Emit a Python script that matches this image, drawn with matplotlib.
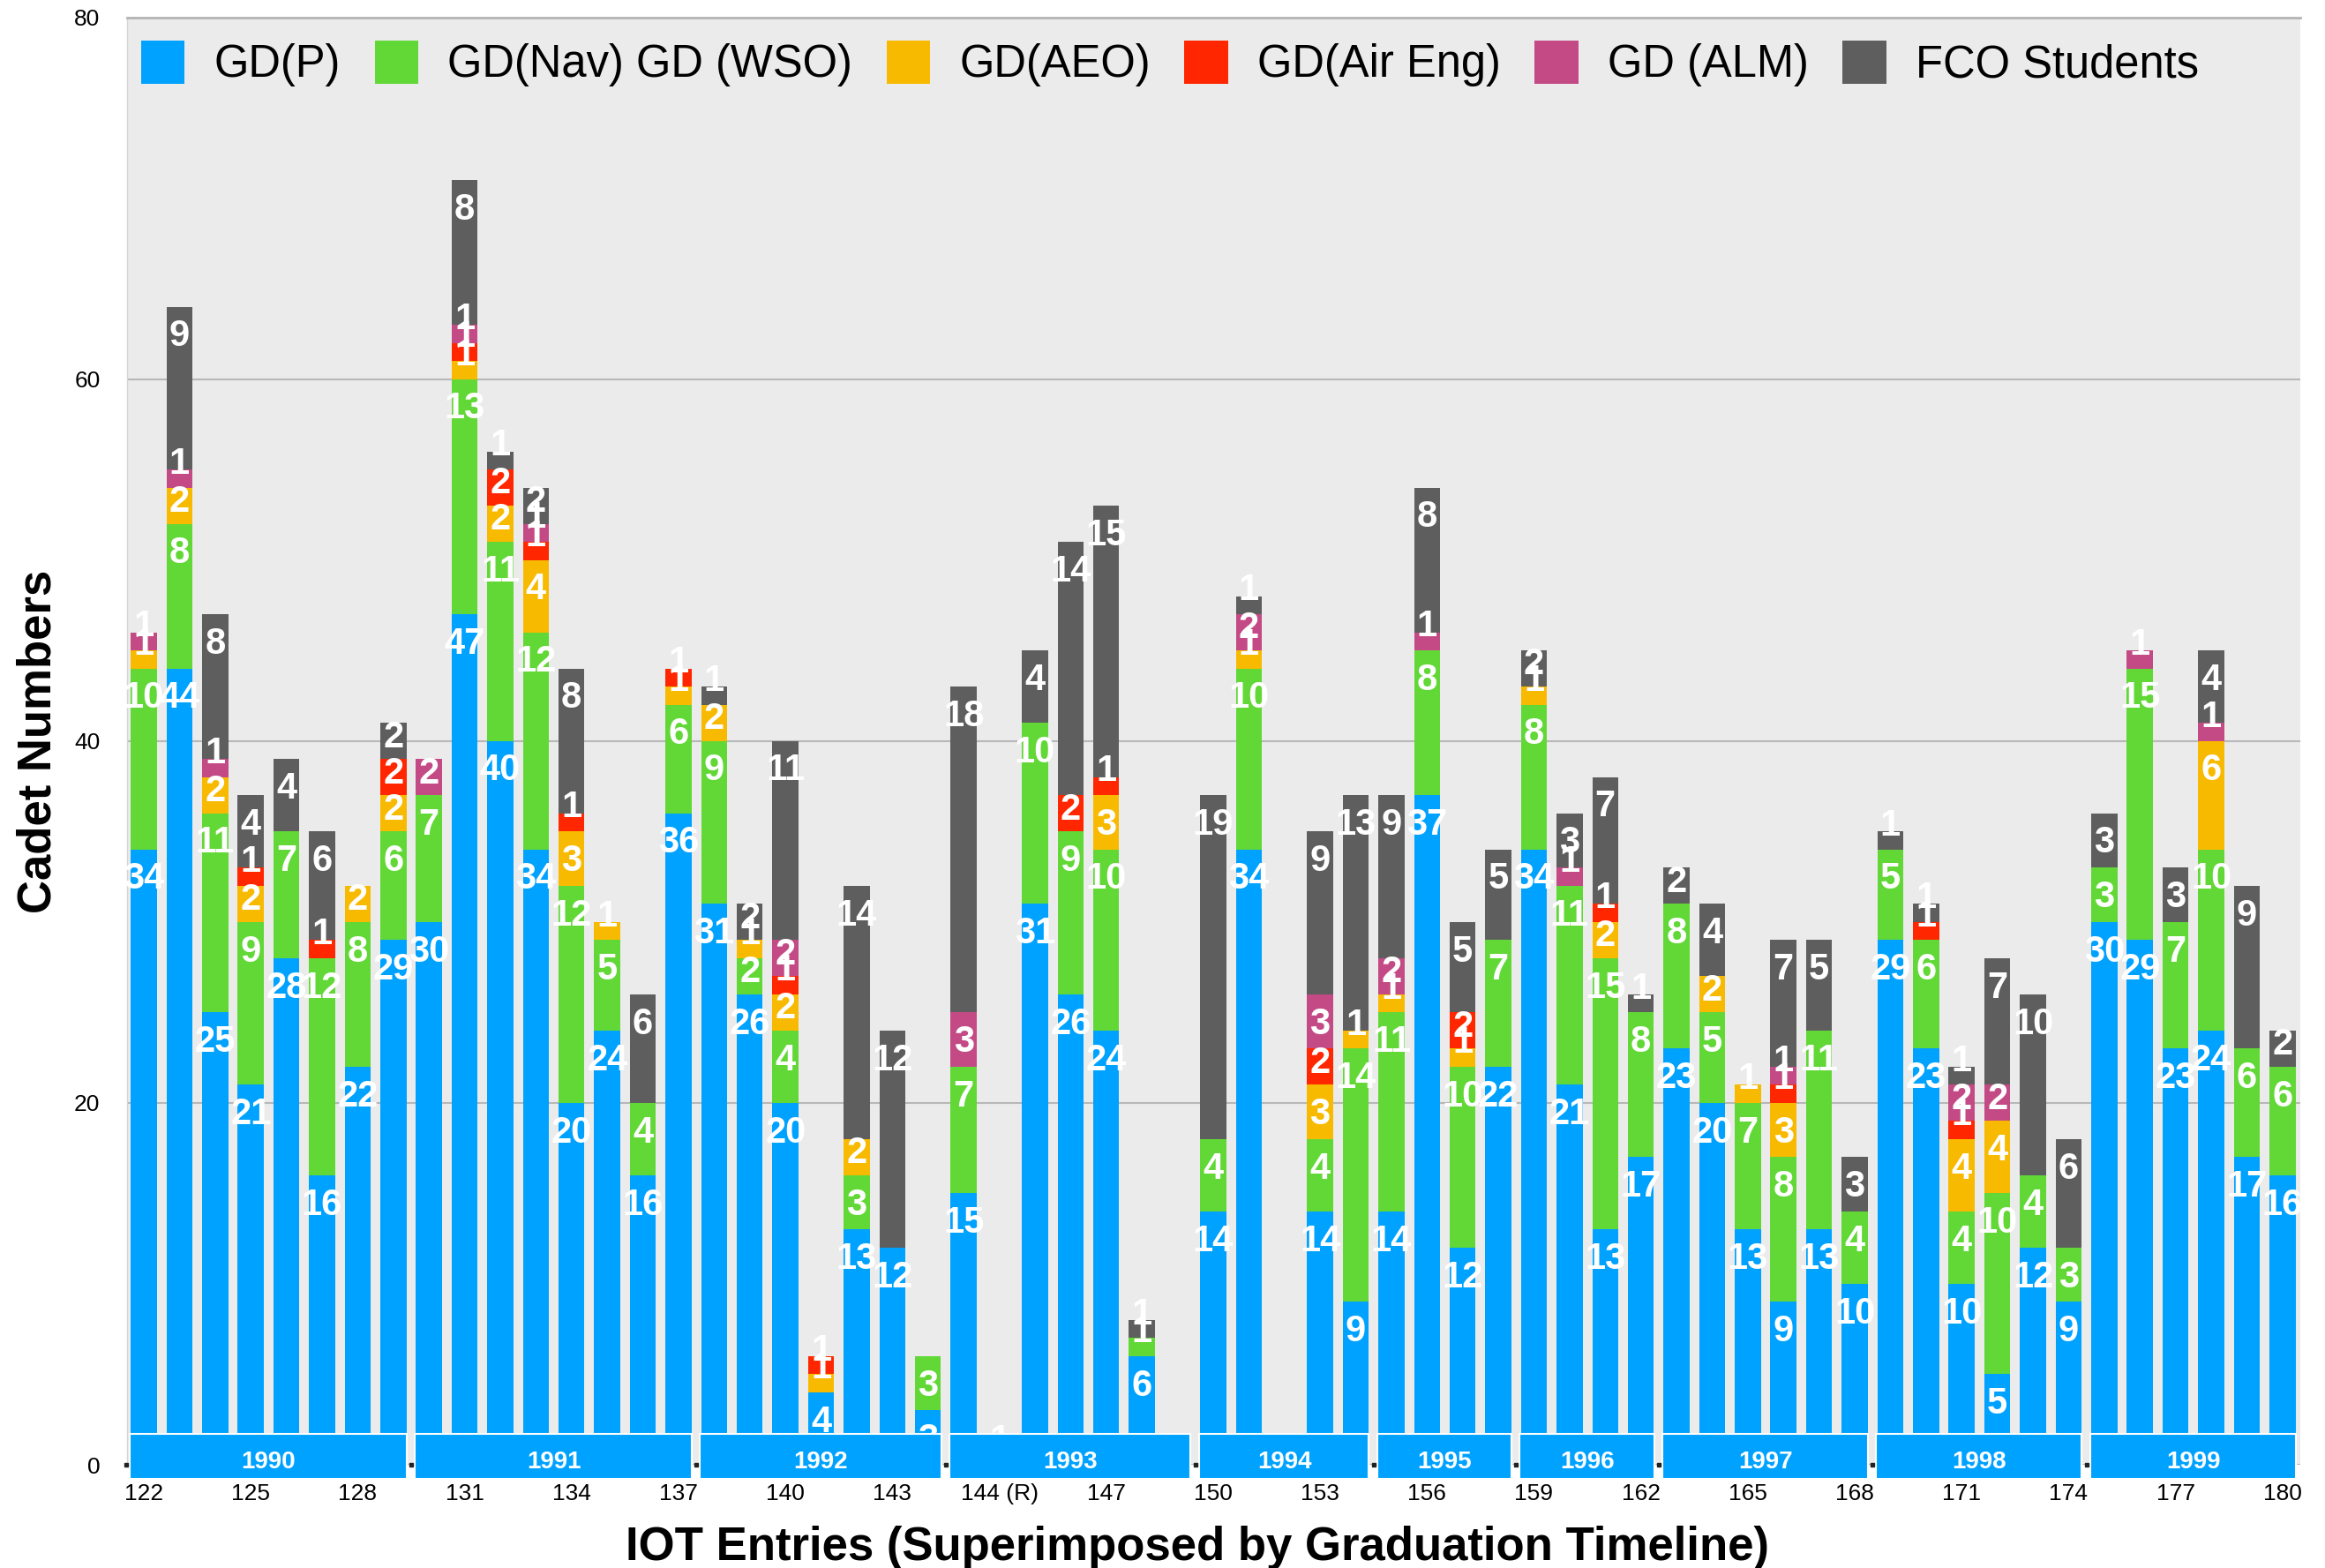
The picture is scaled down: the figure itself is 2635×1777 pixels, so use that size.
import matplotlib
matplotlib.use('Agg')
import matplotlib.pyplot as plt
from matplotlib.patches import Rectangle
import numpy as np

plt.rcParams['font.family'] = ['Liberation Sans', 'DejaVu Sans']

# ── data ─────────────────────────────────────────────────────────────────────
entries = ['122', '123', '124', '125', '126', '127', '128', '129', '130', '131',
           '132', '133', '134', '135', '136', '137', '138', '139', '140', '141',
           '142', '143', '144', '144', '144 (R)', '145', '146', '147', '148', '149',
           '150', '151', '152', '153', '154', '155', '156', '157', '158', '159',
           '160', '161', '162', '163', '164', '165', '166', '167', '168', '169',
           '170', '171', '172', '173', '174', '175', '176', '177', '178', '179',
           '180']

gd_p   = [34, 44, 25, 21, 28, 16, 22, 29, 30, 47, 40, 34, 20, 24, 16, 36, 31, 26, 20, 4,
          13, 12, 3, 15, 1, 31, 26, 24, 6, 0, 14, 34, 0, 14, 9, 14, 37, 12, 22, 34,
          21, 13, 17, 23, 20, 13, 9, 13, 10, 29, 23, 10, 5, 12, 9, 30, 29, 23, 24, 17, 16]
gd_nav = [10, 8, 11, 9, 7, 12, 8, 6, 7, 13, 11, 12, 12, 5, 4, 6, 9, 2, 4, 0,
          3, 0, 3, 7, 0, 10, 9, 10, 1, 0, 4, 10, 0, 4, 14, 11, 8, 10, 7, 8,
          11, 15, 8, 8, 5, 7, 8, 11, 4, 5, 6, 4, 10, 4, 3, 3, 15, 7, 10, 6, 6]
gd_aeo = [1, 2, 2, 2, 0, 0, 2, 2, 0, 1, 2, 4, 3, 1, 0, 1, 2, 1, 2, 1,
          2, 0, 0, 0, 0, 0, 0, 3, 0, 0, 0, 1, 0, 3, 1, 1, 0, 1, 0, 1,
          0, 2, 0, 0, 2, 1, 3, 0, 0, 0, 0, 4, 4, 0, 0, 0, 0, 0, 6, 0, 0]
gd_air = [0, 0, 0, 1, 0, 1, 0, 2, 0, 1, 2, 1, 1, 0, 0, 1, 0, 0, 1, 1,
          0, 0, 0, 0, 0, 0, 2, 1, 0, 0, 0, 0, 0, 2, 0, 0, 0, 2, 0, 0,
          0, 1, 0, 0, 0, 0, 1, 0, 0, 0, 1, 1, 0, 0, 0, 0, 0, 0, 0, 0, 0]
gd_alm = [1, 1, 1, 0, 0, 0, 0, 0, 2, 1, 0, 1, 0, 0, 0, 0, 0, 0, 2, 0,
          0, 0, 0, 3, 0, 0, 0, 0, 0, 0, 0, 2, 0, 3, 0, 2, 1, 0, 0, 0,
          1, 0, 0, 0, 0, 0, 1, 0, 0, 0, 0, 2, 2, 0, 0, 0, 1, 0, 1, 0, 0]
fco    = [0, 9, 8, 4, 4, 6, 0, 2, 0, 8, 1, 2, 8, 0, 6, 0, 1, 2, 11, 0,
          14, 12, 0, 18, 0, 4, 14, 15, 1, 0, 19, 1, 0, 9, 13, 9, 8, 5, 5, 2,
          3, 7, 1, 2, 4, 0, 7, 5, 3, 1, 1, 1, 7, 10, 6, 3, 0, 3, 4, 9, 2]

series_names = ['GD(P)', 'GD(Nav) GD (WSO)', 'GD(AEO)', 'GD(Air Eng)', 'GD (ALM)', 'FCO Students']
series = [gd_p, gd_nav, gd_aeo, gd_air, gd_alm, fco]
colors = ['#00a2ff', '#61d836', '#f8ba00', '#ff2600', '#c34a85', '#5e5e5e']

years      = ['1990', '1991', '1992', '1993', '1994', '1995', '1996', '1997', '1998', '1999']
year_first = [0, 8, 16, 23, 30, 35, 39, 43, 49, 55]
year_last  = [7, 15, 22, 29, 34, 38, 42, 48, 54, 60]

# ── figure ───────────────────────────────────────────────────────────────────
W, H = 2635, 1777
fig = plt.figure(figsize=(W / 100, H / 100), dpi=100)
ax = fig.add_axes([144 / W, 1 - 1660 / H, 2463 / W, 1640.5 / H])
ax.set_facecolor('#ebebeb')

x = np.arange(len(entries))
bottom = np.zeros(len(entries))
bw = 0.73
for vals, name, col in zip(series, series_names, colors):
    v = np.array(vals, dtype=float)
    ax.bar(x, v, bw, bottom=bottom, color=col, label=name, zorder=2)
    for xi, b, h in zip(x, bottom, v):
        if h <= 0:
            continue
        # value label sits just under the segment top, drifts up on thin segments
        drop = 2.18 if h >= 3 else (1.33 if h == 2 else 0.23)
        ax.text(xi, b + h - drop, f'{int(h)}', ha='center', va='baseline',
                color='white', fontsize=30, fontweight='bold', zorder=3)
    bottom += v

# graduation year bands
for yr, a, b in zip(years, year_first, year_last):
    ax.add_patch(Rectangle((a - 0.4, -0.8), b - a + 0.77, 2.5, facecolor=colors[0],
                           edgecolor='white', lw=1.5, clip_on=False, zorder=4))
    ax.text((a + b) / 2, -0.2, yr, ha='center', va='baseline', color='white',
            fontsize=20, fontweight='bold', zorder=5, clip_on=False)

bounds = [a - 0.5 for a in year_first]
ax.plot(bounds, [0] * len(bounds), 's', ms=2.5, color='#222222', clip_on=False, zorder=6)

ax.set_xlim(-0.47, 60.5)
ax.set_ylim(0, 80)
ax.set_xticks(x[::3])
ax.set_xticklabels(entries[::3], fontsize=19)
ax.tick_params(axis='x', length=0, pad=15)
ax.set_yticks([0, 20, 40, 60, 80])
ax.tick_params(axis='y', length=0, pad=22, labelsize=19)
ax.yaxis.grid(True, color='#b8b8b8', lw=1.5)
ax.set_axisbelow(True)
for s in ['right', 'bottom']:
    ax.spines[s].set_visible(False)
ax.spines['top'].set_color('#b4b4b4')
ax.spines['top'].set_linewidth(2)
ax.spines['left'].set_color('#d6d6d6')
ax.spines['left'].set_linewidth(1)

ax.legend(loc='center left', bbox_to_anchor=(16 / 2463, 0.968), ncol=6, frameon=False,
          fontsize=36.5, handlelength=0.97, handleheight=1.12, handletextpad=0.66,
          columnspacing=0.76, borderpad=0, borderaxespad=0)

fig.text(58 / W, 1 - 840 / H, 'Cadet Numbers', rotation=90, rotation_mode='anchor',
         ha='center', va='baseline', fontsize=38, fontweight='bold')
fig.text(1357 / W, 1 - 1768 / H, 'IOT Entries (Superimposed by Graduation Timeline)',
         ha='center', va='baseline', fontsize=38, fontweight='bold')

fig.savefig('out.png', dpi=100)
